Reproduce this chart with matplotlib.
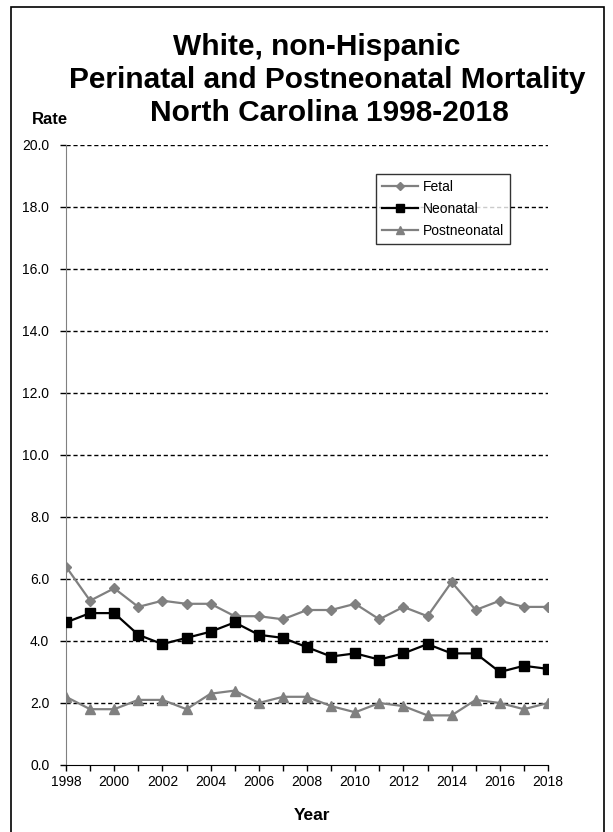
import matplotlib.pyplot as plt
from matplotlib.patches import Rectangle

plt.rcParams['font.family'] = ['Liberation Sans', 'DejaVu Sans']

years = list(range(1998, 2019))
fetal = [6.4, 5.3, 5.7, 5.1, 5.3, 5.2, 5.2, 4.8, 4.8, 4.7, 5.0,
         5.0, 5.2, 4.7, 5.1, 4.8, 5.9, 5.0, 5.3, 5.1, 5.1]
neonatal = [4.6, 4.9, 4.9, 4.2, 3.9, 4.1, 4.3, 4.6, 4.2, 4.1, 3.8,
            3.5, 3.6, 3.4, 3.6, 3.9, 3.6, 3.6, 3.0, 3.2, 3.1]
postneonatal = [2.2, 1.8, 1.8, 2.1, 2.1, 1.8, 2.3, 2.4, 2.0, 2.2, 2.2,
                1.9, 1.7, 2.0, 1.9, 1.6, 1.6, 2.1, 2.0, 1.8, 2.0]
yticks = [0, 2, 4, 6, 8, 10, 12, 14, 16, 18, 20]
title_lines = ['White, non-Hispanic',
               'Perinatal and Postneonatal Mortality',
               'North Carolina 1998-2018']

gray = '#808080'
W, H = 613, 832

fig = plt.figure(figsize=(6.13, 8.32), dpi=100)
ax = fig.add_axes([66 / W, 1 - 765 / H, (548 - 66) / W, (765 - 145) / H])

# outer frame
fig.patches.append(Rectangle((11 / W, -0.01), (604 - 11) / W, 1.01 - 7 / H,
                             transform=fig.transFigure, fill=False,
                             edgecolor='black', linewidth=1.2))

for y in yticks[1:]:
    ax.axhline(y, color='black', linestyle=(0, (3, 2)), linewidth=1, zorder=1)

ax.plot(years, fetal, color=gray, marker='D', markersize=5, linewidth=1.6,
        label='Fetal', zorder=3)
ax.plot(years, neonatal, color='black', marker='s', markersize=7, linewidth=1.6,
        label='Neonatal', zorder=4)
ax.plot(years, postneonatal, color=gray, marker='^', markersize=7.5, linewidth=1.6,
        label='Postneonatal', zorder=3)

ax.set_xlim(1998, 2018)
ax.set_ylim(0, 20)
ax.set_yticks(yticks)
ax.set_yticklabels([f'{v:.1f}' for v in yticks])
ax.set_xticks(years)
ax.set_xticklabels([str(y) if y % 2 == 0 else '' for y in years])
ax.tick_params(axis='both', labelsize=10, direction='out', length=4, width=1)
ax.tick_params(axis='y', pad=8)
ax.tick_params(axis='x', pad=3)

for s in ['top', 'right']:
    ax.spines[s].set_visible(False)
ax.spines['left'].set_color(gray)
ax.spines['bottom'].set_color('black')

leg = ax.legend(loc='upper left',
                bbox_to_anchor=((376 - 66) / 482, 1 - (174 - 145) / 620),
                fontsize=10, frameon=True, fancybox=False, edgecolor='black',
                borderpad=0.45, borderaxespad=0, handlelength=2.6,
                handletextpad=0.3, labelspacing=0.55, markerscale=0.75)
leg.get_frame().set_linewidth(1)

for txt, xc, yc in zip(title_lines, [317, 327, 329], [47, 80, 113]):
    fig.text(xc / W, 1 - yc / H, txt, ha='center', va='center',
             fontsize=21.5, fontweight='bold')
fig.text(49.5 / W, 1 - 119 / H, 'Rate', ha='center', va='center',
         fontsize=12, fontweight='bold')
fig.text(312 / W, 1 - 815 / H, 'Year', ha='center', va='center',
         fontsize=12.5, fontweight='bold')

fig.savefig('out.png', dpi=100)
